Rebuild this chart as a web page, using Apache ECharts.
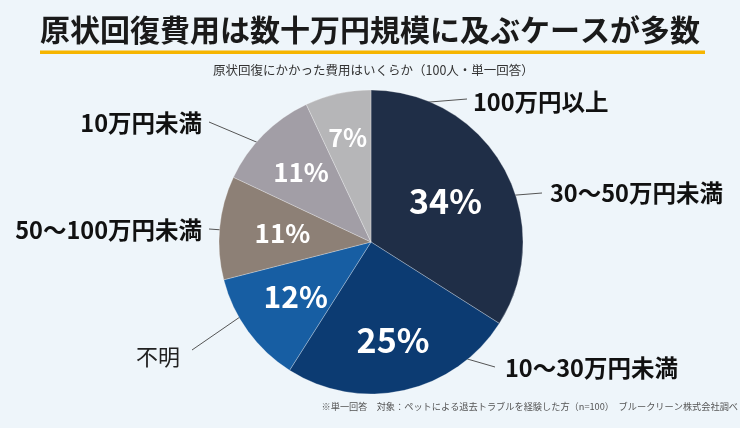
<!DOCTYPE html>
<html><head><meta charset="utf-8">
<script src="https://cdn.jsdelivr.net/npm/echarts@6/dist/echarts.min.js"></script>
<style>html,body{margin:0;padding:0;background:#eef5fa}#c{width:740px;height:428px}</style>
</head><body><div id="c"></div>
<script>
const categories = ['30〜50万円未満', '10〜30万円未満', '不明', '50〜100万円未満', '10万円未満', '100万円以上'];
const values = [34, 25, 12, 11, 11, 7];
const titleText = '原状回復費用は数十万円規模に及ぶケースが多数';
const subtitleText = '原状回復にかかった費用はいくらか（100人・単一回答）';
const noteText = '※単一回答　対象：ペットによる退去トラブルを経験した方（n=100）　ブルークリーン株式会社調べ';

// styles / layout (not data)
const colors = ['#1f2e47', '#0c3b72', '#175ea3', '#8d8076', '#a29ea6', '#b6b6b8'];
const pctFont = [34, 34, 30, 26, 26, 25];
const pctRadius = [85, 101, 93, 89, 99, 107];
const CX = 371, CY = 242, R = 152, R_LINE = 135;
const FONT = '"Noto Sans CJK JP", "Noto Sans", sans-serif';
const leader = [
  { a: 19.7, ex: 171, ey: -49, lx: 179, ly: -49, align: 'left' },
  { a: -55.5, ex: 124, ey: 125, lx: 134, ly: 126, align: 'left' },
  { a: 209.2, ex: -179, ey: 108, lx: -191, ly: 115, align: 'right' },
  { a: 175.3, ex: -162, ey: -13, lx: -169, ly: -12, align: 'right' },
  { a: 136.5, ex: -162, ey: -120, lx: -169, ly: -119, align: 'right' },
  { a: 97.7, ex: 96, ey: -143, lx: 102, ly: -140, align: 'left' }
];
const total = values.reduce((s, v) => s + v, 0);
function midAngle(i) {
  let acc = 0;
  for (let k = 0; k < i; k++) acc += values[k];
  return 90 - (acc + values[i] / 2) / total * 360;
}

const chart = echarts.init(document.getElementById('c'));
chart.setOption({
  backgroundColor: '#eef5fa',
  textStyle: { fontFamily: FONT },
  title: [
    { text: titleText, left: 'center', top: 12, padding: 0,
      textStyle: { fontSize: 30, fontWeight: 'bold', color: '#1a1a1a', fontFamily: FONT, lineHeight: 36 } },
    { text: subtitleText, left: 213, top: 62, padding: 0,
      textStyle: { fontSize: 12.5, fontWeight: 'normal', color: '#333', fontFamily: FONT, lineHeight: 16 } },
    { text: noteText, right: 2, top: 401, padding: 0,
      textStyle: { fontSize: 9.2, fontWeight: 'normal', color: '#555', fontFamily: FONT, lineHeight: 12 } }
  ],
  graphic: [
    { type: 'rect', shape: { x: 40, y: 50.5, width: 665, height: 3.5 }, style: { fill: '#f6b500' }, silent: true }
  ],
  series: [
    {
      type: 'pie', center: [CX, CY], radius: [0, R], startAngle: 90, clockwise: true,
      silent: true, animation: false,
      itemStyle: { borderColor: 'rgba(255,255,255,0.45)', borderWidth: 0.6 },
      label: { show: true, position: 'inside', formatter: '{c}%', color: '#fff', fontWeight: 'bold', fontFamily: FONT },
      labelLine: { show: false },
      labelLayout: function (p) {
        const i = p.dataIndex, a = midAngle(i) * Math.PI / 180, r = pctRadius[i];
        return { x: CX + r * Math.cos(a), y: CY - r * Math.sin(a), align: 'center', verticalAlign: 'middle' };
      },
      data: categories.map((n, i) => ({ name: n, value: values[i],
        itemStyle: { color: colors[i] }, label: { fontSize: pctFont[i] } }))
    },
    {
      type: 'pie', center: [CX, CY], radius: [0, R_LINE], startAngle: 90, clockwise: true,
      silent: true, animation: false, avoidLabelOverlap: false,
      itemStyle: { color: 'rgba(0,0,0,0)' },
      label: { show: true, position: 'outside', formatter: '{b}', color: '#111', fontSize: 23.5, fontWeight: 'bold', fontFamily: FONT },
      labelLine: { show: true, length: 10, length2: 10, lineStyle: { color: '#555', width: 1 } },
      labelLayout: function (p) {
        const L = leader[p.dataIndex], a = L.a * Math.PI / 180;
        return {
          x: CX + L.lx, y: CY + L.ly, align: L.align, verticalAlign: 'middle',
          labelLinePoints: [[CX + R_LINE * Math.cos(a), CY - R_LINE * Math.sin(a)], [CX + L.ex, CY + L.ey]]
        };
      },
      data: categories.map((n, i) => ({ name: n, value: values[i],
        label: i === 2 ? { fontWeight: 'normal', fontSize: 22, color: '#222' } : {} }))
    }
  ]
});
</script></body></html>
